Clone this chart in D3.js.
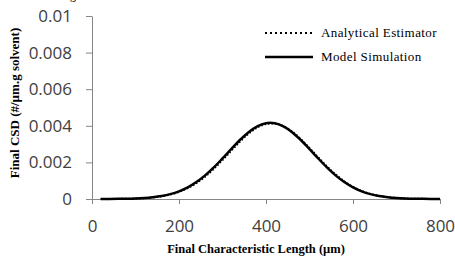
<!DOCTYPE html>
<html><head><meta charset="utf-8">
<script src="https://cdn.jsdelivr.net/npm/d3@7"></script>
<style>body{margin:0;background:#fff}svg{display:block}</style>
</head><body>
<script>
const lengths = [20,40,60,80,100,120,140,160,180,200,220,240,260,280,300,320,340,360,380,400,410,420,440,460,480,500,520,540,560,580,600,620,640,660,680,700,720,740,760,780,800];
const modelSim = [0.0000015,0.0000033,0.000007,0.000014,0.000028,0.000052,0.000094,0.00016,0.000265,0.000419,0.000635,0.000924,0.00129,0.001726,0.002217,0.002728,0.003224,0.003653,0.003969,0.004138,0.00416,0.004138,0.003969,0.003653,0.003224,0.002728,0.002217,0.001726,0.00129,0.000924,0.000635,0.000419,0.000265,0.00016,0.000094,0.000052,0.000028,0.000014,0.000007,0.000003,0.0000015];
const analytical = [0.000001,0.000003,0.000006,0.000012,0.000025,0.000047,0.000086,0.000147,0.000244,0.000389,0.000593,0.000869,0.001221,0.001644,0.002126,0.002633,0.003131,0.003571,0.003904,0.004096,0.00412,0.004122,0.003978,0.003684,0.003272,0.002785,0.002277,0.001783,0.001341,0.000966,0.000668,0.000443,0.000282,0.000171,0.000102,0.000056,0.00003,0.000015,0.000008,0.000004,0.000002];
const xTicks = [0,200,400,600,800];
const yTicks = [0,0.002,0.004,0.006,0.008,0.01];
const seriesNames = ["Analytical Estimator","Model Simulation"];

const W=455,H=260;
const svg=d3.select("body").append("svg").attr("width",W).attr("height",H);
const x=d3.scaleLinear().domain([0,800]).range([92,440]);
const y=d3.scaleLinear().domain([0,0.01]).range([199,16]);

// cut-off glyph at the top (present in the reference)
svg.append("text").attr("x",70).attr("y",-1).attr("font-family","Liberation Serif").attr("font-size",12).text("g");

const axisColor="#868686";
const tickFont="Open Sans";
const gx=svg.append("g").attr("transform","translate(0,199)")
  .call(d3.axisBottom(x).tickValues(xTicks).tickSize(5).tickSizeOuter(0).tickPadding(16).tickFormat(d=>d));
const gy=svg.append("g").attr("transform","translate(92,0)")
  .call(d3.axisLeft(y).tickValues(yTicks).tickSize(6).tickSizeOuter(0).tickPadding(14).tickFormat(d=>d===0?"0":d3.format("")(+d.toFixed(3))));
[gx,gy].forEach(g=>{
  g.selectAll("path,line").attr("stroke",axisColor).attr("stroke-width",1);
  g.selectAll("text").attr("font-family",tickFont).attr("font-size",17).attr("fill","#404040");
});

const line=d3.line().x((d,i)=>x(lengths[i])).y(d=>y(d)).curve(d3.curveMonotoneX);
svg.append("path").datum(modelSim).attr("d",line).attr("fill","none").attr("stroke","#000").attr("stroke-width",2.5);
svg.append("path").datum(analytical).attr("d",line).attr("fill","none").attr("stroke","#000").attr("stroke-width",2).attr("stroke-dasharray","1.5,2");

// legend
const lg=svg.append("g");
lg.append("line").attr("x1",265).attr("x2",313).attr("y1",33).attr("y2",33).attr("stroke","#000").attr("stroke-width",2).attr("stroke-dasharray","2,3");
lg.append("line").attr("x1",265).attr("x2",313).attr("y1",57).attr("y2",57).attr("stroke","#000").attr("stroke-width",2.5);
lg.append("text").attr("x",321).attr("y",37).attr("font-family","Liberation Serif").attr("font-size",13).attr("letter-spacing",0.4).text(seriesNames[0]);
lg.append("text").attr("x",321).attr("y",61).attr("font-family","Liberation Serif").attr("font-size",13).attr("letter-spacing",0.4).text(seriesNames[1]);

// axis titles
svg.append("text").attr("x",256).attr("y",253).attr("text-anchor","middle").attr("font-family","Liberation Serif").attr("font-weight","bold").attr("font-size",12.5).text("Final Characteristic Length (µm)");
svg.append("text").attr("transform","translate(19,103) rotate(-90)").attr("text-anchor","middle").attr("font-family","Liberation Serif").attr("font-weight","bold").attr("font-size",13).text("Final CSD (#/µm.g solvent)");
</script>
</body></html>
